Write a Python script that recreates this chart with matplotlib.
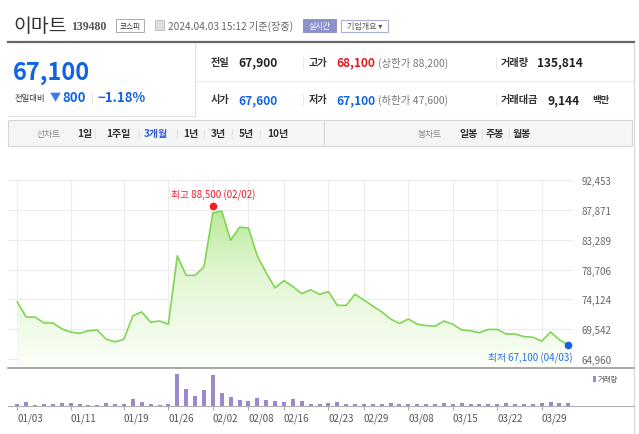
import matplotlib
matplotlib.use('Agg')
import matplotlib.pyplot as plt
import numpy as np
from matplotlib.patches import Rectangle, Polygon
from matplotlib.lines import Line2D
from matplotlib.colors import LinearSegmentedColormap

plt.rcParams['font.family'] = ['Noto Sans CJK KR', 'DejaVu Sans']

W, H = 639, 435

# 일별 데이터 (01/03 ~ 04/03)
dates = ['01/03', '01/04', '01/05', '01/08', '01/09', '01/10', '01/11', '01/12',
         '01/15', '01/16', '01/17', '01/18', '01/19', '01/22', '01/23', '01/24',
         '01/25', '01/26', '01/29', '01/30', '01/31', '02/01', '02/02', '02/05',
         '02/06', '02/07', '02/08', '02/13', '02/14', '02/15', '02/16', '02/19',
         '02/20', '02/21', '02/22', '02/23', '02/26', '02/27', '02/28', '02/29',
         '03/04', '03/05', '03/06', '03/07', '03/08', '03/11', '03/12', '03/13',
         '03/14', '03/15', '03/18', '03/19', '03/20', '03/21', '03/22', '03/25',
         '03/26', '03/27', '03/28', '03/29', '04/01', '04/02', '04/03']
close = [73700, 71400, 71400, 70500, 70500, 69600, 69100, 68900,
         69300, 69400, 68000, 67600, 68000, 71600, 72200, 70600,
         70800, 70300, 80800, 77800, 77800, 79100, 87400, 87700,
         83200, 85200, 85100, 80800, 78200, 75900, 77000, 76100,
         75000, 75600, 74900, 75300, 73200, 73200, 74900, 74000,
         73100, 72200, 71100, 70400, 71100, 70300, 70100, 70000,
         70800, 70300, 69400, 69300, 69000, 69500, 69500, 68800,
         68800, 68400, 68300, 67700, 69100, 67900, 67100]
# 거래량 (천주)
volume_k = [80, 170, 60, 75, 75, 120, 135, 90,
            65, 65, 135, 95, 95, 330, 180, 90,
            65, 90, 1450, 780, 450, 700, 1380, 585,
            405, 255, 210, 375, 255, 210, 180, 330,
            210, 90, 75, 120, 165, 75, 75, 75,
            75, 75, 120, 90, 75, 105, 105, 90,
            120, 105, 120, 90, 75, 75, 90, 120,
            105, 105, 90, 120, 165, 136, 136]

tick_dates = ['01/03', '01/11', '01/19', '01/26', '02/02', '02/08', '02/16',
              '02/23', '02/29', '03/08', '03/15', '03/22', '03/29']
price_ticks = [64960, 69542, 74124, 78706, 83289, 87871, 92453]

high_val, high_date = 88500, '02/02'
low_val, low_date = 67100, '04/03'

fig = plt.figure(figsize=(W / 100, H / 100), dpi=100)


def fx(x):
    return x / W


def fy(y):
    return 1 - y / H


def txt(x, y, s, **kw):
    kw.setdefault('va', 'center')
    fig.text(fx(x), fy(y), s, **kw)


def hline(y, x0, x1, **kw):
    fig.add_artist(Line2D([fx(x0), fx(x1)], [fy(y), fy(y)], **kw))


def vline(x, y0, y1, **kw):
    fig.add_artist(Line2D([fx(x), fx(x)], [fy(y0), fy(y1)], **kw))


def box(x0, y0, x1, y1, **kw):
    fig.add_artist(Rectangle((fx(x0), fy(y1)), (x1 - x0) / W, (y1 - y0) / H,
                             transform=fig.transFigure, **kw))


# ---- 상단 종목 정보 ----
txt(13, 26, '이마트', fontsize=14, color='#333333')
txt(71, 27, '139480', fontsize=8.5, color='#555555', fontweight='bold',
    family=['Liberation Serif'])
box(116, 20, 144, 33, facecolor='white', edgecolor='#aaaaaa', lw=0.7)
txt(130, 26.5, '코스피', fontsize=5.5, color='#333333', ha='center')
box(155, 21, 164, 31, facecolor='#dddddd', edgecolor='#bbbbbb', lw=0.6)
txt(168, 26, '2024.04.03 15:12 기준(장중)', fontsize=7.3, color='#666666')
box(303, 20, 336, 33, facecolor='#8c93cc', edgecolor='#8c93cc', lw=0.7)
txt(319.5, 26.5, '실시간', fontsize=5.8, color='white', ha='center')
box(341, 21, 388, 33, facecolor='white', edgecolor='#a9add8', lw=0.8)
txt(364.5, 27, '기업개요 ▾', fontsize=5.8, color='#555555', ha='center')

hline(43, 8, 634, color='#666666', lw=1.6)
vline(195, 44, 117, color='#e0e0e0', lw=0.8)
hline(82, 196, 634, color='#e8e8e8', lw=0.8)
vline(634, 44, 435, color='#d8d8d8', lw=0.8)

blue = '#1064e3'
txt(13, 73, '67,100', fontsize=17, color=blue, fontweight='bold')
txt(15, 98, '전일대비', fontsize=6, color='#333333')
txt(50, 98, '▼', fontsize=8, color='#3a7be6')
txt(62, 98, '800', fontsize=9.5, color=blue, fontweight='bold')
txt(91, 98, '|', fontsize=8, color='#dddddd')
txt(97, 98, '−1.18%', fontsize=9.5, color=blue, fontweight='bold')

red = '#e8161e'
dark = '#222222'
num_fs = 8.6
for cy, lab, val, col in [(63, '전일', '67,900', dark), (100.5, '시가', '67,600', blue)]:
    txt(211, cy, lab, fontsize=7.3, color='#333333', fontweight='bold')
    txt(238, cy, val, fontsize=num_fs, color=col, fontweight='bold')
    txt(303, cy, '|', fontsize=7, color='#dddddd', ha='center')
    txt(496, cy, '|', fontsize=7, color='#dddddd', ha='center')
txt(309, 63, '고가', fontsize=7.3, color='#333333', fontweight='bold')
txt(336, 63, '68,100', fontsize=num_fs, color=red, fontweight='bold')
txt(378, 63, '(상한가 88,200)', fontsize=7.5, color='#777777')
txt(309, 100.5, '저가', fontsize=7.3, color='#333333', fontweight='bold')
txt(336, 100.5, '67,100', fontsize=num_fs, color=blue, fontweight='bold')
txt(378, 100.5, '(하한가 47,600)', fontsize=7.5, color='#777777')
txt(501, 63, '거래량', fontsize=7.3, color='#333333', fontweight='bold')
txt(537, 63, '135,814', fontsize=num_fs, color=dark, fontweight='bold')
txt(501, 100.5, '거래대금', fontsize=7.3, color='#333333', fontweight='bold')
txt(547, 100.5, '9,144', fontsize=num_fs, color=dark, fontweight='bold')
txt(592, 100.5, '백만', fontsize=6.8, color='#333333', fontweight='bold')

hline(117, 8, 195, color='#dddddd', lw=0.8)

# ---- 기간 탭 ----
box(8, 121, 632, 147, facecolor='#f4f5f7', edgecolor='#d6d6d6', lw=0.8)
vline(324, 121, 147, color='#d6d6d6', lw=0.8)
txt(37, 134, '선차트', fontsize=6.3, color='#888888')
tabs = [(77, '1일'), (106, '1주일'), (144, '3개월'), (183, '1년'),
        (211, '3년'), (239, '5년'), (267, '10년')]
for x, s in tabs:
    col = '#2f5fd0' if s == '3개월' else '#333333'
    txt(x, 134, s, fontsize=7.2, color=col, fontweight='bold')
for x in [94, 138, 176, 203, 231, 259]:
    txt(x, 134, '|', fontsize=6, color='#cccccc', ha='center')
txt(418, 134, '봉차트', fontsize=6.3, color='#888888')
for x, s in [(459, '일봉'), (486, '주봉'), (513, '월봉')]:
    txt(x, 134, s, fontsize=7.2, color='#333333', fontweight='bold')
for x in [481, 508]:
    txt(x, 134, '|', fontsize=6, color='#cccccc', ha='center')

# ---- 가격 차트 ----
idx = np.arange(len(dates))
tick_pos = [dates.index(d) for d in tick_dates]
x_left = -1.046
x_right = 62.52
per_px = (92453 - 64960) / 179.0
y_bottom = 64960 - 8 * per_px

ax = fig.add_axes([fx(8), fy(368), (573 - 8) / W, (368 - 181) / H])
ax.set_facecolor('none')
for s in ax.spines.values():
    s.set_visible(False)

cmap = LinearSegmentedColormap.from_list('g', ['#fbfff8', '#e2f6d3', '#a6e481'])
grad = ax.imshow(np.linspace(0, 1, 256).reshape(-1, 1), cmap=cmap, origin='lower',
                 aspect='auto', extent=[x_left, x_right, y_bottom, 92453], zorder=1)
verts = [(idx[0], y_bottom)] + list(zip(idx, close)) + [(idx[-1], y_bottom)]
clip = Polygon(verts, closed=True, facecolor='none', edgecolor='none')
ax.add_patch(clip)
grad.set_clip_path(clip)
ax.plot(idx, close, color='#80d652', lw=1.2, zorder=3)

ax.set_xlim(x_left, x_right)
ax.set_ylim(y_bottom, 92453)
ax.set_xticks(tick_pos)
ax.set_yticks(price_ticks)
ax.set_yticklabels([f'{v:,}' for v in price_ticks])
ax.yaxis.tick_right()
ax.tick_params(axis='both', length=0, labelsize=7, labelcolor='#666666')
ax.tick_params(axis='y', pad=6)
ax.tick_params(axis='x', labelbottom=False)
ax.grid(True, color='#ececec', lw=0.8, zorder=0)
ax.set_axisbelow(True)
for lbl in ax.get_yticklabels():
    lbl.set_ha('left')

hi_i = dates.index(high_date)
lo_i = dates.index(low_date)
ax.plot(hi_i, high_val, 'o', color='#f01c28', ms=4.5, zorder=5, clip_on=False)
ax.annotate(f'최고 {high_val:,} ({high_date})', (hi_i, high_val), xytext=(0, 11),
            textcoords='offset pixels', ha='center', va='center', fontsize=7,
            color='#f01c28')
ax.plot(lo_i, low_val, 'o', color='#1a5fe0', ms=4.5, zorder=5, clip_on=False)
ax.annotate(f'최저 {low_val:,} ({low_date})', (lo_i, low_val), xytext=(4, -12),
            textcoords='offset pixels', ha='right', va='center', fontsize=7,
            color='#2a6fe6')

# ---- 거래량 ----
vax = fig.add_axes([fx(8), fy(407), (573 - 8) / W, (407 - 369) / H])
vax.set_facecolor('none')
for s in vax.spines.values():
    s.set_visible(False)
vax.bar(idx, np.array(volume_k) * 1000, width=0.45, color='#9d88cc', zorder=2)
vax.set_xlim(x_left, x_right)
vax.set_ylim(0, 1700000)
vax.set_yticks([])
vax.set_xticks(tick_pos)
vax.set_xticklabels(tick_dates)
vax.tick_params(axis='x', length=3, color='#aaaaaa', labelsize=7,
                labelcolor='#555555', pad=2)
for lbl in vax.get_xticklabels():
    lbl.set_ha('left')

hline(368.5, 8, 634, color='#9a9a9a', lw=1.2)
hline(407, 8, 634, color='#b0b0b0', lw=0.8)
box(593, 377, 595.5, 383, facecolor='#9d88cc', edgecolor='none')
txt(598, 380, '거래량', fontsize=5.3, color='#555555')

fig.savefig('out.png', dpi=100)
